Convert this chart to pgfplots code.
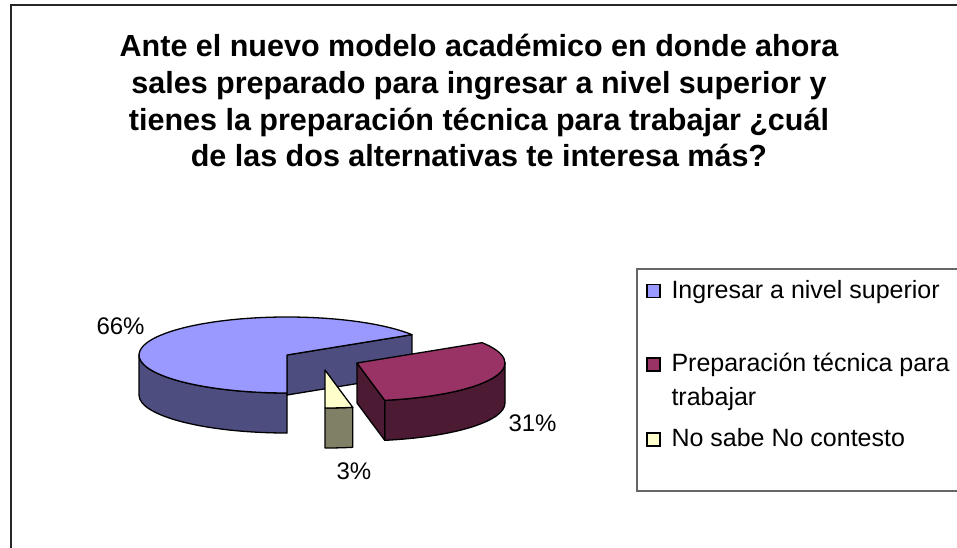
\documentclass[border=0pt]{standalone}
\usepackage{pgfplots}
\pgfplotsset{compat=1.18}
\usepackage{pgfplotstable}
\usepackage{fontspec}
\setmainfont{Liberation Sans}
\definecolor{btop}{HTML}{9999FF}
\definecolor{bside}{HTML}{4D4D80}
\definecolor{rtop}{HTML}{993366}
\definecolor{rside}{HTML}{4D1A33}
\definecolor{ytop}{HTML}{FFFFCC}
\definecolor{yside}{HTML}{808066}
\definecolor{lgbox}{HTML}{666666}
\pgfplotstableread{
idx value
0 66
1 31
2 3
}\piedata
\begin{document}
\begin{tikzpicture}
\pgfplotstablegetelem{0}{value}\of\piedata \let\va\pgfplotsretval
\pgfplotstablegetelem{1}{value}\of\piedata \let\vb\pgfplotsretval
\pgfplotstablegetelem{2}{value}\of\piedata \let\vc\pgfplotsretval
% angles (pie starts at front, running clockwise)
\pgfmathsetmacro\aA{270-3.6*\va}
\pgfmathsetmacro\aB{\aA-3.6*\vb}
\pgfmathsetmacro\aC{\aB-3.6*\vc}
% geometry (px)
\def\rx{148}\def\ry{38}\def\hh{40}
\def\bcx{287}\def\bcy{192}
\def\rcx{357}\def\rcy{184}
\def\ycx{325}\def\ycy{177}
\pgfmathsetmacro\bAx{\bcx+\rx*cos(\aA)}\pgfmathsetmacro\bAy{\bcy+\ry*sin(\aA)}
\pgfmathsetmacro\bLx{\bcx-\rx}
\pgfmathsetmacro\bcyd{\bcy-\hh}
\pgfmathsetmacro\rcyd{\rcy-\hh}
\pgfmathsetmacro\ycyb{\ycy-\ry}
\pgfmathsetmacro\rBx{\rcx+\rx*cos(\aB)}\pgfmathsetmacro\rBy{\rcy+\ry*sin(\aB)}
\begin{axis}[x=1pt,y=1pt,xmin=0,xmax=957,ymin=0,ymax=547,hide axis,
  every node/.style={inner sep=0pt}]
\coordinate (BL) at (axis cs:0,0);
\coordinate (TR) at (axis cs:957,547);
% frame
\draw[line width=1.8pt,black!85] (axis cs:11,-10) -- (axis cs:11,542) -- (axis cs:975,542);
% title
\node[anchor=base] at (axis cs:479,490.3) {\fontsize{30.5}{36}\selectfont\bfseries Ante el nuevo modelo académico en donde ahora};
\node[anchor=base] at (axis cs:479,453.6) {\fontsize{30.5}{36}\selectfont\bfseries sales preparado para ingresar a nivel superior y};
\node[anchor=base] at (axis cs:479,416.9) {\fontsize{30.5}{36}\selectfont\bfseries tienes la preparación técnica para trabajar ¿cuál};
\node[anchor=base] at (axis cs:479,380.2) {\fontsize{30.5}{36}\selectfont\bfseries de las dos alternativas te interesa más?};
% ---- blue slice
\begin{scope}[line width=1.3pt,line join=round,draw=black]
\filldraw[fill=bside] (axis cs:\bLx,\bcy) arc[start angle=180,end angle=270,x radius=\rx pt,y radius=\ry pt]
   -- ++(0pt,-\hh pt) arc[start angle=270,end angle=180,x radius=\rx pt,y radius=\ry pt] -- cycle;
\filldraw[fill=bside] (axis cs:\bcx,\bcy) -- (axis cs:\bAx,\bAy) -- ++(0pt,-\hh pt) -- (axis cs:\bcx,\bcyd) -- cycle;
\filldraw[fill=btop] (axis cs:\bcx,\bcy) -- (axis cs:\bAx,\bAy) arc[start angle=\aA,end angle=270,x radius=\rx pt,y radius=\ry pt] -- cycle;
% ---- yellow slice
\filldraw[fill=yside] (axis cs:\ycx,\ycyb) arc[start angle=-90,end angle=\aB,x radius=\rx pt,y radius=\ry pt]
   -- ++(0pt,-\hh pt) arc[start angle=\aB,end angle=-90,x radius=\rx pt,y radius=\ry pt] -- cycle;
\filldraw[fill=ytop] (axis cs:\ycx,\ycy) -- (axis cs:\ycx,\ycyb) arc[start angle=-90,end angle=\aB,x radius=\rx pt,y radius=\ry pt] -- cycle;
% ---- red slice
\filldraw[fill=rside] (axis cs:\rBx,\rBy) arc[start angle=\aB,end angle=0,x radius=\rx pt,y radius=\ry pt]
   -- ++(0pt,-\hh pt) arc[start angle=0,end angle=\aB,x radius=\rx pt,y radius=\ry pt] -- cycle;
\filldraw[fill=rside] (axis cs:\rcx,\rcy) -- (axis cs:\rBx,\rBy) -- ++(0pt,-\hh pt) -- (axis cs:\rcx,\rcyd) -- cycle;
\filldraw[fill=rtop] (axis cs:\rcx,\rcy) -- (axis cs:\rBx,\rBy) arc[start angle=\aB,end angle=\aA,x radius=\rx pt,y radius=\ry pt] -- cycle;
\end{scope}
% labels
\node[anchor=base west] at (axis cs:93,213) {\fontsize{24}{28}\selectfont 66\%};
\node[anchor=base west] at (axis cs:505,116) {\fontsize{24}{28}\selectfont 31\%};
\node[anchor=base west] at (axis cs:333,68) {\fontsize{24}{28}\selectfont 3\%};
% legend
\draw[line width=1.5pt,lgbox] (axis cs:975,278) -- (axis cs:637,278) -- (axis cs:637,56) -- (axis cs:975,56);
\filldraw[fill=btop,line width=1.2pt] (axis cs:647,249.5) rectangle (axis cs:660,262.5);
\filldraw[fill=rtop,line width=1.2pt] (axis cs:647,176) rectangle (axis cs:660,189);
\filldraw[fill=ytop,line width=1.2pt] (axis cs:647,101) rectangle (axis cs:660,114);
\node[anchor=base west] at (axis cs:668,249) {\fontsize{25}{28}\selectfont Ingresar a nivel superior};
\node[anchor=base west] at (axis cs:668,175.3) {\fontsize{25}{28}\selectfont Preparación técnica para};
\node[anchor=base west] at (axis cs:668,142) {\fontsize{25}{28}\selectfont trabajar};
\node[anchor=base west] at (axis cs:668,100.3) {\fontsize{25}{28}\selectfont No sabe No contesto};
\end{axis}
\pgfresetboundingbox
\path[use as bounding box] (BL) rectangle (TR);
\end{tikzpicture}
\end{document}
